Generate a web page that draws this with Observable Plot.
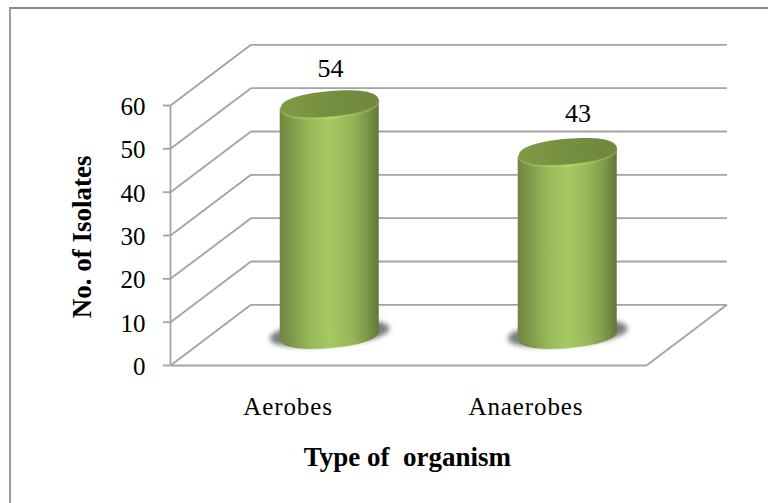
<!DOCTYPE html>
<html>
<head>
<meta charset="utf-8">
<script src="https://cdn.jsdelivr.net/npm/d3@7"></script>
<script src="https://cdn.jsdelivr.net/npm/@observablehq/plot@0.6"></script>
<style>
  html,body{margin:0;padding:0;background:#fff;}
  #wrap{position:relative;width:768px;height:503px;overflow:hidden;}
  #edge{position:absolute;left:9px;top:7px;right:-5px;bottom:-5px;border-top:2px solid #8c8c8c;border-left:2px solid #9a9a9a;}
  svg{position:absolute;left:0;top:0;}
  .cats text{letter-spacing:.9px;}
</style>
</head>
<body>
<div id="wrap"><div id="edge"></div></div>
<script>
const categories = ["Aerobes", "Anaerobes"];
const isolates = [54, 43];
const yTicks = [0, 10, 20, 30, 40, 50, 60];
const labelX = [0.672, 1.712];
const labelY = [68.4, 58.1];
const depthX = 0.338;
const depthY = 14;
const baseLift = 7;
const topLift = 6.2;
const tilt = 1;

const FONT = "'Liberation Serif','Times New Roman',serif";
const GRID = "#a3a3a3";

const bars = categories.map((c, i) => ({
  name: c,
  value: isolates[i],
  cx: i + 0.5 + depthX / 2,
  half: 0.208,
  lx: labelX[i],
  ly: labelY[i]
}));

const bodyEdges = bars.flatMap(b => [
  {name: b.name, x: b.cx - b.half, y1: baseLift - tilt, y2: b.value + topLift - tilt},
  {name: b.name, x: b.cx + b.half, y1: baseLift + tilt, y2: b.value + topLift + tilt}
]);

const ellipse = (ratio) => ({
  draw(ctx, size) {
    const rx = Math.sqrt(size / Math.PI), ry = rx * ratio, k = 0.62;
    ctx.moveTo(-rx, 0);
    ctx.bezierCurveTo(-rx, -k * ry, -k * rx, -ry, 0, -ry);
    ctx.bezierCurveTo(k * rx, -ry, rx, -k * ry, rx, 0);
    ctx.bezierCurveTo(rx, k * ry, k * rx, ry, 0, ry);
    ctx.bezierCurveTo(-k * rx, ry, -rx, k * ry, -rx, 0);
    ctx.closePath();
  }
});

function gradients() {
  const svg = d3.create("svg:g");
  const defs = svg.append("defs");
  const grad = (id, stops) => {
    const g = defs.append("linearGradient").attr("id", id).attr("x1", 0).attr("x2", 1).attr("y1", 0).attr("y2", 0);
    stops.forEach(([o, c]) => g.append("stop").attr("offset", o).attr("stop-color", c));
  };
  grad("body", [[0, "#6d863f"], [0.12, "#80994b"], [0.3, "#99b95a"], [0.5, "#a6c963"], [0.72, "#96b658"], [0.88, "#7d9849"], [1, "#5f7838"]]);
  grad("lip", [[0, "#8ba64c"], [0.5, "#b2d66a"], [1, "#7f9a45"]]);
  grad("face", [[0, "#7f9a46"], [0.5, "#758f40"], [1, "#6f883d"]]);
  return svg.node();
}

const walls = yTicks.flatMap(v => [
  {x1: 0, y1: v, x2: depthX, y2: v + depthY},
  {x1: depthX, y1: v + depthY, x2: 2 + depthX, y2: v + depthY}
]);

const soften = (index, scales, values, dimensions, context, next) => {
  const g = next(index, scales, values, dimensions, context);
  g.style.filter = "blur(2.5px)";
  return g;
};

const chart = Plot.plot({
  width: 768,
  height: 503,
  marginLeft: 170,
  marginRight: 122,
  marginTop: 105,
  marginBottom: 138,
  style: {background: "transparent", overflow: "visible"},
  x: {type: "linear", domain: [0, 2], axis: null},
  y: {type: "linear", domain: [0, 60], axis: null},
  marks: [
    gradients,
    Plot.link(walls, {x1: "x1", y1: "y1", x2: "x2", y2: "y2", stroke: GRID, strokeWidth: 1.8}),
    Plot.link([{x1: 0, y1: 0, x2: 2, y2: 0}, {x1: 2, y1: 0, x2: 2 + depthX, y2: depthY}], {x1: "x1", y1: "y1", x2: "x2", y2: "y2", stroke: GRID, strokeWidth: 1.8}),
    Plot.ruleX([0], {y1: 0, y2: 60, stroke: GRID, strokeWidth: 1.8}),
    Plot.axisY({ticks: yTicks, tickSize: 7, text: null, stroke: GRID, strokeWidth: 1.8, label: null}),
    Plot.axisY({ticks: yTicks, tickSize: 0, tickPadding: 25, dy: 1.5, label: null, fontFamily: FONT, fontSize: 25, color: "#000", textStroke: "none"}),
    Plot.axisX({ticks: [0.5, 1.5], tickFormat: d => categories[Math.floor(d)], tickSize: 0, tickPadding: 32, label: null, fontFamily: FONT, fontSize: 25, className: "cats", dx: -1.5}),
    Plot.dot(bars, {x: "cx", y: baseLift + 0.4, r: 60, symbol: ellipse(0.2), rotate: -5, fill: "#7c7c7c", render: soften}),
    Plot.dot(bars, {x: "cx", y: baseLift, r: 49.5, symbol: ellipse(0.26), rotate: -5, fill: "url(#body)"}),
    Plot.areaY(bodyEdges, {x: "x", y1: "y1", y2: "y2", z: "name", fill: "url(#body)"}),
    Plot.dot(bars, {x: "cx", y: d => d.value + topLift, dy: 1, r: 49.5, symbol: ellipse(0.27), rotate: -5, fill: "url(#lip)"}),
    Plot.dot(bars, {x: "cx", y: d => d.value + topLift, dy: -0.8, r: 49, symbol: ellipse(0.26), rotate: -5, fill: "url(#face)"}),
    Plot.text(bars, {x: "lx", y: "ly", text: d => String(d.value), fontFamily: FONT, fontSize: 26, fill: "#000"}),
    Plot.text(["No. of Isolates"], {x: -0.37, y: 29.7, rotate: -90, fontFamily: FONT, fontWeight: "bold", fontSize: 27, fill: "#000"}),
    Plot.text(["Type of  organism"], {x: 0.995, y: -21.3, fontFamily: FONT, fontWeight: "bold", fontSize: 27, fill: "#000", style: "white-space:pre"})
  ]
});
document.getElementById("wrap").appendChild(chart);
</script>
</body>
</html>
